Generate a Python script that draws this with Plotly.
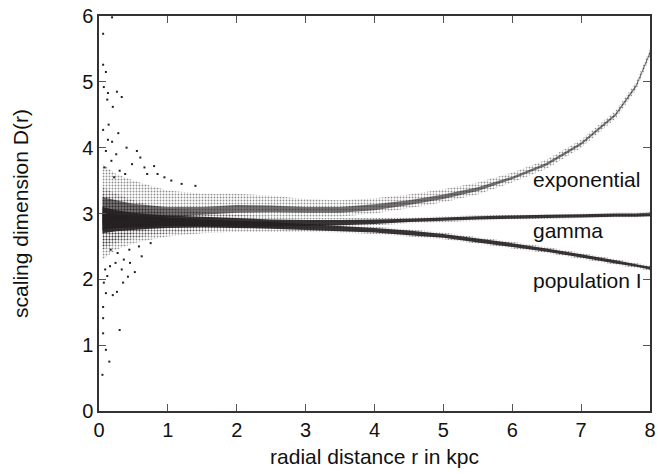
import plotly.graph_objects as go

# radial grid (kpc) where band edges were read
r_band = [0.05, 0.25, 0.5, 0.75, 1.0, 1.5, 2.0, 2.5, 3.0, 3.5, 4.0, 4.5, 5.0, 5.5, 6.0, 6.5, 7.0, 7.5, 7.8, 8.0]

# exponential band: outer (sparse) and inner (dense) edges
exp_hi  = [3.75, 3.6, 3.5, 3.42, 3.35, 3.3, 3.3, 3.27, 3.22, 3.2, 3.23, 3.29, 3.37, 3.47, 3.62, 3.82, 4.12, 4.56, 5.0, 5.5]
exp_lo  = [2.5, 2.6, 2.7, 2.75, 2.8, 2.88, 2.93, 2.94, 2.94, 2.95, 3.0, 3.08, 3.17, 3.29, 3.47, 3.68, 4.0, 4.44, 4.88, 5.38]
exp_chi = [3.25, 3.2, 3.15, 3.12, 3.1, 3.1, 3.13, 3.12, 3.1, 3.1, 3.14, 3.2, 3.29, 3.4, 3.56, 3.77, 4.08, 4.52, 4.96, 5.46]
exp_clo = [2.85, 2.88, 2.9, 2.92, 2.94, 2.98, 3.01, 3.02, 3.01, 3.01, 3.05, 3.13, 3.22, 3.34, 3.52, 3.73, 4.04, 4.48, 4.92, 5.42]

# gamma band
gam_hi  = [3.4, 3.3, 3.2, 3.13, 3.08, 3.02, 2.98, 2.95, 2.93, 2.93, 2.93, 2.94, 2.96, 2.97, 2.98, 2.99, 3.0, 3.01, 3.01, 3.02]
gam_lo  = [2.45, 2.55, 2.62, 2.67, 2.7, 2.74, 2.76, 2.77, 2.78, 2.8, 2.82, 2.85, 2.87, 2.89, 2.91, 2.92, 2.93, 2.94, 2.94, 2.95]
gam_chi = [3.1, 3.05, 3.01, 2.99, 2.97, 2.95, 2.93, 2.91, 2.9, 2.9, 2.91, 2.92, 2.94, 2.96, 2.97, 2.98, 2.99, 3.0, 3.0, 3.01]
gam_clo = [2.75, 2.78, 2.79, 2.8, 2.81, 2.81, 2.8, 2.8, 2.81, 2.82, 2.84, 2.87, 2.89, 2.91, 2.92, 2.93, 2.94, 2.95, 2.95, 2.96]

# population I band
pop_hi  = [3.3, 3.2, 3.12, 3.05, 3.0, 2.95, 2.92, 2.89, 2.86, 2.83, 2.8, 2.76, 2.71, 2.64, 2.57, 2.49, 2.4, 2.31, 2.25, 2.21]
pop_lo  = [2.3, 2.45, 2.55, 2.6, 2.65, 2.7, 2.72, 2.72, 2.72, 2.71, 2.69, 2.65, 2.61, 2.54, 2.47, 2.4, 2.31, 2.22, 2.17, 2.13]
pop_chi = [3.0, 2.98, 2.96, 2.95, 2.93, 2.91, 2.89, 2.87, 2.84, 2.81, 2.78, 2.74, 2.69, 2.62, 2.55, 2.47, 2.38, 2.29, 2.23, 2.19]
pop_clo = [2.7, 2.73, 2.75, 2.77, 2.78, 2.79, 2.78, 2.77, 2.75, 2.73, 2.71, 2.67, 2.63, 2.56, 2.49, 2.42, 2.33, 2.24, 2.19, 2.15]

# isolated points read near the centre
out_r = [0.19, 0.06, 0.06, 0.10, 0.07, 0.13, 0.33, 0.26, 0.20, 0.12, 0.06, 0.28, 0.13, 0.19,
         0.06, 0.06, 0.06, 0.30, 0.10, 0.20, 0.26, 0.10, 0.52, 0.42, 0.05, 0.15, 0.35, 0.45,
         0.60, 0.80, 0.55, 0.70, 0.95, 1.20, 0.40, 0.25, 0.08, 0.16, 0.36, 0.62,
         0.10, 0.18, 0.30, 0.48, 0.22, 0.14, 0.38, 0.09, 0.27, 0.66, 0.85, 1.05, 1.40,
         0.12, 0.24, 0.33, 0.07, 0.17, 0.44, 0.58, 0.75]
out_d = [5.98, 5.73, 5.26, 5.15, 4.92, 4.83, 4.77, 4.85, 4.62, 4.73, 4.27, 4.22, 4.12, 4.09,
         1.58, 1.41, 1.18, 1.23, 0.93, 1.76, 1.81, 1.79, 2.11, 2.04, 0.55, 0.75, 1.95, 2.25,
         3.85, 3.72, 3.95, 3.60, 3.55, 3.45, 4.0, 3.9, 3.7, 2.2, 2.3, 2.35,
         3.95, 3.8, 3.65, 3.75, 3.55, 4.35, 3.6, 2.15, 2.4, 3.7, 3.6, 3.5, 3.42,
         2.05, 2.25, 2.15, 1.95, 2.45, 2.45, 2.5, 2.55]

labels = ["exponential", "gamma", "population I"]
label_r = [6.27, 6.27, 6.27]
label_d = [3.51, 2.74, 1.98]

ink = "#231f20"

fig = go.Figure()

def band(lo, hi, pattern, alpha=0.85):
    xs = list(r_band) + list(reversed(r_band))
    ys = list(hi) + list(reversed(lo))
    if pattern:
        fig.add_trace(go.Scatter(x=xs, y=ys, fill="toself", mode="none",
                                 fillcolor="rgba(0,0,0,0)",
                                 fillpattern=dict(shape=".", fgcolor=ink, bgcolor="rgba(0,0,0,0)",
                                                  size=3, solidity=0.3),
                                 hoverinfo="skip", showlegend=False))
    else:
        fig.add_trace(go.Scatter(x=xs, y=ys, fill="toself", mode="none",
                                 fillcolor="rgba(35,31,32,%g)" % alpha,
                                 hoverinfo="skip", showlegend=False))

band(exp_lo, exp_hi, True)
band(gam_lo, gam_hi, True)
band(pop_lo, pop_hi, True)
band(exp_clo, exp_chi, False, 0.62)
band(gam_clo, gam_chi, False, 0.9)
band(pop_clo, pop_chi, False, 0.9)

fig.add_trace(go.Scatter(x=out_r, y=out_d, mode="markers",
                         marker=dict(size=2, color=ink, symbol="square", line=dict(width=0)),
                         hoverinfo="skip", showlegend=False))

for t, x, y in zip(labels, label_r, label_d):
    fig.add_annotation(x=x, y=y, text=t, showarrow=False, xanchor="left", yanchor="middle",
                       font=dict(size=21, color="#111"))

axis_common = dict(showgrid=False, zeroline=False, showline=True, linecolor="#333", linewidth=1.5,
                   mirror="ticks", ticks="inside", ticklen=7, tickcolor="#555", tickwidth=1,
                   ticklabeloverflow="allow", tickfont=dict(size=20, color="#111"))

fig.update_xaxes(range=[0, 8], dtick=1,
                 title=dict(text="radial distance r in kpc", font=dict(size=21, color="#111"), standoff=10),
                 **axis_common)
fig.update_yaxes(range=[0, 6], dtick=1,
                 title=dict(text="scaling dimension D(r)", font=dict(size=21, color="#111"), standoff=48),
                 **axis_common)

fig.update_layout(width=658, height=474, margin=dict(l=99, r=8, t=16, b=63, autoexpand=False),
                  plot_bgcolor="white", paper_bgcolor="white",
                  font=dict(family="Liberation Sans, Arial, sans-serif"))

fig.write_html("out.html", config={"displayModeBar": False},
               post_script="document.body.style.margin='0';document.body.style.overflow='hidden';")
